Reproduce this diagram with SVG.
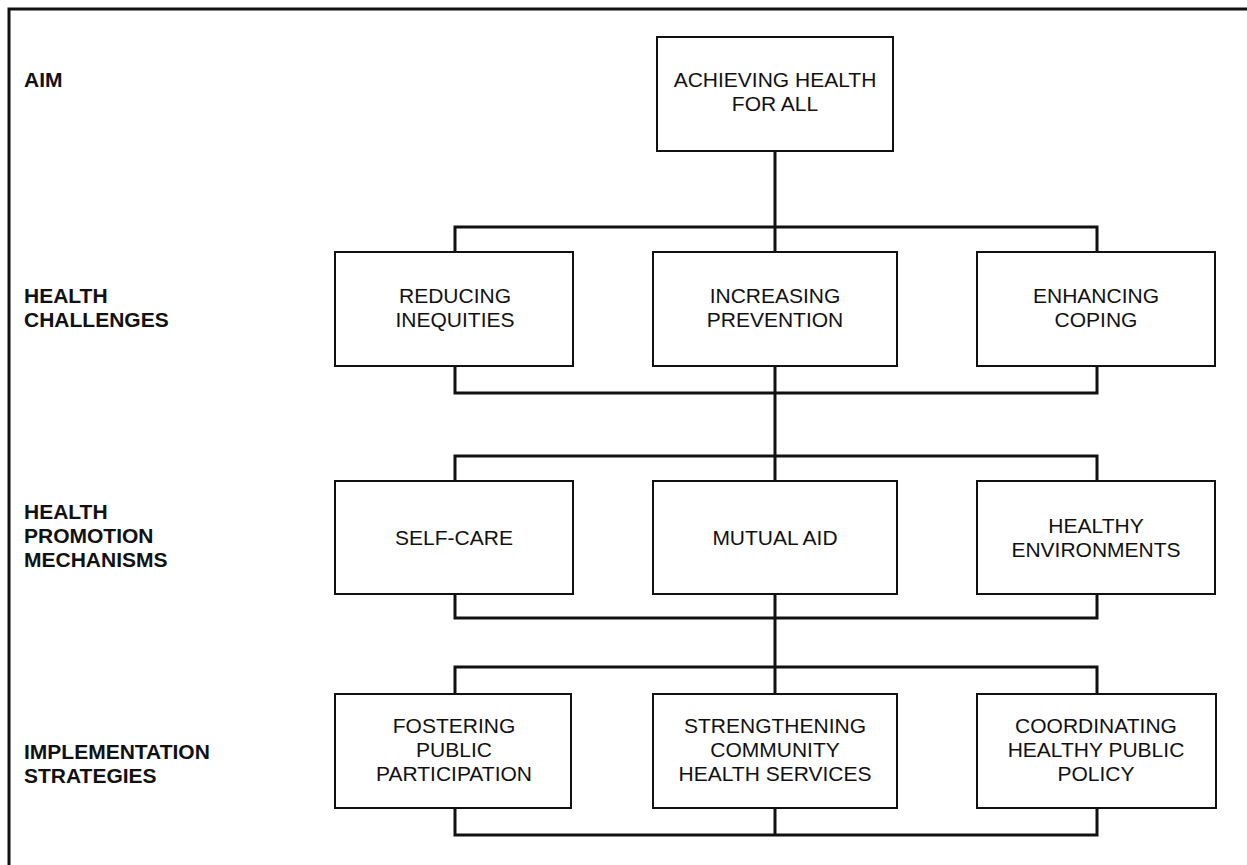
<svg xmlns="http://www.w3.org/2000/svg" width="1247" height="865" viewBox="0 0 1247 865">
<style>
.box{fill:#fff;stroke:#111;stroke-width:2}
.conn{fill:none;stroke:#111;stroke-width:3}
.frame{fill:none;stroke:#111;stroke-width:3}
.lbl{font-family:"Liberation Sans",Arial,sans-serif;font-weight:bold;font-size:21px;fill:#111}
.t{font-family:"Liberation Sans",Arial,sans-serif;font-size:21px;fill:#111;text-anchor:middle}
</style>
<rect width="1247" height="865" fill="#fff"/>
<path class="frame" d="M9,865 V9 H1247"/>
<g id="levels">
<text class="lbl" x="24" y="87">AIM</text>
<text class="lbl" x="24" y="303">HEALTH</text>
<text class="lbl" x="24" y="327">CHALLENGES</text>
<text class="lbl" x="24" y="519">HEALTH</text>
<text class="lbl" x="24" y="543">PROMOTION</text>
<text class="lbl" x="24" y="567">MECHANISMS</text>
<text class="lbl" x="24" y="759">IMPLEMENTATION</text>
<text class="lbl" x="24" y="783">STRATEGIES</text>
</g>
<g id="connectors">
<path class="conn" d="M775,151 V252"/>
<path class="conn" d="M455,252 V227 H1097 V252"/>
<path class="conn" d="M455,366 V393 H1097 V366"/>
<path class="conn" d="M775,366 V481"/>
<path class="conn" d="M455,481 V456 H1097 V481"/>
<path class="conn" d="M455,594 V618 H1097 V594"/>
<path class="conn" d="M775,594 V694"/>
<path class="conn" d="M455,694 V667 H1097 V694"/>
<path class="conn" d="M455,808 V835 H1097 V808"/>
<path class="conn" d="M775,808 V835"/>
</g>
<g id="aim">
<rect class="box" x="657" y="37" width="236" height="114"/>
<text class="t" x="775" y="87">ACHIEVING HEALTH</text>
<text class="t" x="775" y="111">FOR ALL</text>
</g>
<g id="reducing">
<rect class="box" x="335" y="252" width="238" height="114"/>
<text class="t" x="455" y="303">REDUCING</text>
<text class="t" x="455" y="327">INEQUITIES</text>
</g>
<g id="increasing">
<rect class="box" x="653" y="252" width="244" height="114"/>
<text class="t" x="775" y="303">INCREASING</text>
<text class="t" x="775" y="327">PREVENTION</text>
</g>
<g id="enhancing">
<rect class="box" x="977" y="252" width="238" height="114"/>
<text class="t" x="1096" y="303">ENHANCING</text>
<text class="t" x="1096" y="327">COPING</text>
</g>
<g id="selfcare">
<rect class="box" x="335" y="481" width="238" height="113"/>
<text class="t" x="454" y="545">SELF-CARE</text>
</g>
<g id="mutualaid">
<rect class="box" x="653" y="481" width="244" height="113"/>
<text class="t" x="775" y="545">MUTUAL AID</text>
</g>
<g id="environments">
<rect class="box" x="977" y="481" width="238" height="113"/>
<text class="t" x="1096" y="533">HEALTHY</text>
<text class="t" x="1096" y="557">ENVIRONMENTS</text>
</g>
<g id="fostering">
<rect class="box" x="335" y="694" width="236" height="114"/>
<text class="t" x="454" y="733">FOSTERING</text>
<text class="t" x="454" y="757">PUBLIC</text>
<text class="t" x="454" y="781">PARTICIPATION</text>
</g>
<g id="strengthening">
<rect class="box" x="653" y="694" width="244" height="114"/>
<text class="t" x="775" y="733">STRENGTHENING</text>
<text class="t" x="775" y="757">COMMUNITY</text>
<text class="t" x="775" y="781">HEALTH SERVICES</text>
</g>
<g id="coordinating">
<rect class="box" x="977" y="694" width="239" height="114"/>
<text class="t" x="1096" y="733">COORDINATING</text>
<text class="t" x="1096" y="757">HEALTHY PUBLIC</text>
<text class="t" x="1096" y="781">POLICY</text>
</g>
</svg>
